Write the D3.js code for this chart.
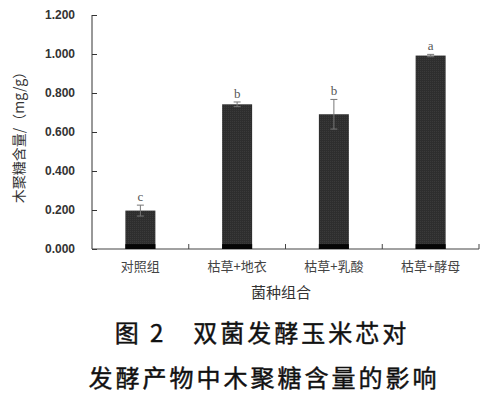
<!DOCTYPE html>
<meta charset="utf-8">
<style>
body { margin: 0; background: #fff; }
svg { display: block; }
.ytick text { font: bold 12px "Liberation Sans", Arial, sans-serif; fill: #333; }
.cat { font: 13px "Noto Sans CJK SC", sans-serif; fill: #444; }
.ttl { font: 14px "Noto Sans CJK SC", sans-serif; fill: #333; }
.cap { font: 24px "Noto Sans CJK SC", sans-serif; fill: #111; stroke: #111; stroke-width: 0.45px; letter-spacing: 3px; }
</style>
<body>
<script src="https://d3js.org/d3.v7.min.js"></script>
<script>

// data
var groups = ["对照组", "枯草+地衣", "枯草+乳酸", "枯草+酵母"];
var content = [0.197, 0.742, 0.691, 0.992];
var errors = [0.028, 0.012, 0.076, 0.006];
var letters = ["c", "b", "b", "a"];
var baseStrip = [0.025, 0.025, 0.025, 0.025];
var yTicks = [0, 0.2, 0.4, 0.6, 0.8, 1.0, 1.2];

var W = 491, H = 398;
var margin = {left: 92, right: 12, top: 15, bottom: 149};
var width = 479 - margin.left;
var height = 249 - margin.top;

var svg = d3.select("body").append("svg")
  .attr("width", W).attr("height", H);

// fine texture for bars
var defs = svg.append("defs");
var pat = defs.append("pattern").attr("id", "tex")
  .attr("width", 2).attr("height", 2).attr("patternUnits", "userSpaceOnUse");
pat.append("rect").attr("width", 2).attr("height", 2).attr("fill", "#2e2e2e");
pat.append("rect").attr("width", 1).attr("height", 1).attr("fill", "#3a3a3a");

var g = svg.append("g").attr("transform", "translate(" + margin.left + "," + margin.top + ")");

var x = d3.scaleBand().domain(groups).range([0, width]).paddingInner(0.69).paddingOuter(0.345);
var xb = d3.scaleBand().domain(groups).range([0, width]);
var y = d3.scaleLinear().domain([0, 1.2]).range([height, 0]);

// y axis
var yAxis = d3.axisLeft(y).tickValues(yTicks).tickSize(-5).tickPadding(17)
  .tickFormat(d3.format(".3f"));
var ya = g.append("g").attr("class", "ytick").call(yAxis);
ya.select(".domain").attr("stroke", "#333").attr("d", "M0," + y(1.2) + "V" + height);
ya.selectAll("line").attr("stroke", "#333");

// x axis
g.append("line").attr("x1", 0).attr("x2", width).attr("y1", height).attr("y2", height)
  .attr("stroke", "#444").attr("stroke-width", 1.2);
g.selectAll(".xt").data(groups).enter().append("line")
  .attr("x1", function(d) { return xb(d) + xb.bandwidth(); })
  .attr("x2", function(d) { return xb(d) + xb.bandwidth(); })
  .attr("y1", height).attr("y2", height - 5)
  .attr("stroke", "#444");

// bars
g.selectAll(".bar").data(groups).enter().append("rect")
  .attr("x", function(d) { return x(d); })
  .attr("width", x.bandwidth())
  .attr("y", function(d, i) { return y(content[i]); })
  .attr("height", function(d, i) { return height - y(content[i]); })
  .attr("fill", "url(#tex)");

g.selectAll(".strip").data(groups).enter().append("rect")
  .attr("x", function(d) { return x(d); })
  .attr("width", x.bandwidth())
  .attr("y", function(d, i) { return y(baseStrip[i]); })
  .attr("height", function(d, i) { return height - y(baseStrip[i]); })
  .attr("fill", "#050505");

// error bars
var eb = g.selectAll(".err").data(groups).enter().append("g")
  .attr("stroke", "#777").attr("stroke-width", 1);
eb.append("line")
  .attr("x1", function(d) { return x(d) + x.bandwidth() / 2; })
  .attr("x2", function(d) { return x(d) + x.bandwidth() / 2; })
  .attr("y1", function(d, i) { return y(content[i] + errors[i]); })
  .attr("y2", function(d, i) { return y(content[i] - errors[i]); });
[1, -1].forEach(function(s) {
  eb.append("line")
    .attr("x1", function(d) { return x(d) + x.bandwidth() / 2 - 3.5; })
    .attr("x2", function(d) { return x(d) + x.bandwidth() / 2 + 3.5; })
    .attr("y1", function(d, i) { return y(content[i] + s * errors[i]); })
    .attr("y2", function(d, i) { return y(content[i] + s * errors[i]); });
});

// significance letters
g.selectAll(".let").data(groups).enter().append("text")
  .attr("x", function(d) { return x(d) + x.bandwidth() / 2; })
  .attr("y", function(d, i) { return y(content[i] + errors[i]) - 4; })
  .attr("text-anchor", "middle")
  .style("font", "13px 'Liberation Serif', serif").style("fill", "#555")
  .text(function(d, i) { return letters[i]; });

// category labels
g.selectAll(".cat").data(groups).enter().append("text")
  .attr("class", "cat")
  .attr("x", function(d) { return x(d) + x.bandwidth() / 2; })
  .attr("y", height + 22)
  .attr("text-anchor", "middle")
  .text(function(d) { return d; });

// axis titles
svg.append("text").attr("class", "ttl")
  .attr("transform", "translate(24,134) rotate(-90)")
  .attr("text-anchor", "middle")
  .text("木聚糖含量/（mg/g）");
svg.append("text").attr("class", "ttl").style("font-size", "15px")
  .attr("x", 281).attr("y", 298).attr("text-anchor", "middle")
  .text("菌种组合");

// figure caption
svg.append("text").attr("class", "cap")
  .attr("x", 262).attr("y", 342).attr("text-anchor", "middle")
  .text("图 2　双菌发酵玉米芯对");
svg.append("text").attr("class", "cap")
  .attr("x", 264).attr("y", 387).attr("text-anchor", "middle")
  .text("发酵产物中木聚糖含量的影响");

</script>
